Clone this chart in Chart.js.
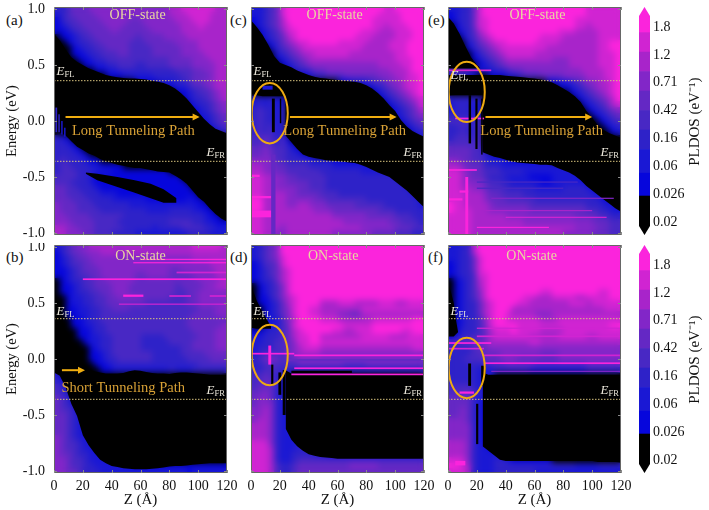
<!DOCTYPE html>
<html>
<head>
<meta charset="utf-8">
<title>PLDOS</title>
<script src="https://cdn.jsdelivr.net/npm/chart.js@4"></script>
<style>
html,body{margin:0;padding:0;background:#fff;width:709px;height:510px;overflow:hidden}
canvas{position:absolute}
.tag{position:absolute;font:15px "Liberation Serif",serif;color:#111}
</style>
</head>
<body>
<div class="tag" style="left:6px;top:12px">(a)</div>
<div class="tag" style="left:230px;top:12px">(c)</div>
<div class="tag" style="left:428px;top:12px">(e)</div>
<div class="tag" style="left:6px;top:249px">(b)</div>
<div class="tag" style="left:230px;top:249px">(d)</div>
<div class="tag" style="left:428px;top:249px">(f)</div>
<canvas id="pa"></canvas><canvas id="pc"></canvas><canvas id="pe"></canvas>
<canvas id="pb"></canvas><canvas id="pd"></canvas><canvas id="pf"></canvas>
<canvas id="cb1"></canvas><canvas id="cb2"></canvas>
<script>
// colour level 0..9 of the PLDOS map
const levelColors = ['#000000','#0606dc','#1a18d4','#2e22c8','#4828c4','#6428c4','#8226c8','#a824ca','#d024d2','#fb24dc'];
const energyTicks = [-1,-0.5,0,0.5,1];
const zTicks = [0,20,40,60,80,100,120];
const cbarLabels = ['0.02','0.026','0.06','0.16','0.42','0.71','1.2','1.8'];
const cbarEdges = [-0.47,0.93,1.75,2.6,3.3,4,4.7,5.4,6.1,6.8,7.72];
const fermiLeft = 0.36, fermiRight = -0.36;

// rows go from E=1.0 to E=-1.0 in 0.05 steps, columns are 4 A wide
const gridA = [
"334555666666666666667788888877","234555566666666666667778888777","134455556666655666666777888777",
"123445555666555566666677787777","112344555565555556666677777777","011234455555554555566667777777",
"001233445555544455555666677777","000123344555544445555566677777","000112334445544445555566667777",
"000011233444444444445555666777","000001122334443344445555666677","000000011223333333333444556677",
"000000000111222223333344555677","000000000000001111222334556677","000000000000000000011223445677",
"000000000000000000000112344567","000000000000000000000012334567","000000000000000000000001233456",
"000000000000000000000001123456","000000000000000000000000122345","000000000000000000000000012345",
"000000000000000000000000001234","000000000000000000000000000123","321000000000000000000000000000",
"332100000000000000000000000000","333210000000000000000000000000","333321000000000000000000000000",
"343332110000000000000000000000","344333221111000000000000000000","344433322211111111110000000000",
"444433211111111111111100000000","444333211111111111111110000000","554433321111111111111111000000",
"554443332221111111111111100000","555444333322222211111112110000","655544433333322222222222211000",
"655544443333333322223333221100","665555444444333333333333332110","666555544443333333334444332211",
"776655544444333332333344443322","776665544433332222222223333222"];
const gridB = [
"234566777777777777777777888887","134556667776777777777777777777","123455666666666666666666777777",
"123445566666666666666666666777","112345556666666666665566666677","112344556666665566665555666677",
"012334455666665555555555566667","011234455566655555555455556677","011233445566655555555445566666",
"001223344556666555554445566666","001223344555555544444445566666","001122334455544444444444455566",
"001122334444444444444444555566","000112334444444444444445555555","000112233444444444444445555556",
"000011233444444444444444555566","000011223344444333344444455566","000001223344444333334444555566",
"000000123344444333333344555566","000000112344444443333344445555","000000112334444443333334444555",
"000000011233333333333333344444","100000001122222222223222333333","31","321","432","432","5431","54321",
"544310","5543210","5543210","55432110","554322110","6543221100","65443221100","654432211110",
"6554332211111","66544322221111111","665443322222211111111111111111","665543332222222222222221222222"];
const gridC = [
"223458999999999999999998899999","223458999999999999999988889999","123457999999999999999888889999",
"123457899999999999999887888999","012346889999999999988877788899","012345789999999999888777788899",
"001235678899999888887777888999","000134567888888888877777888999","000023456778888887777777788999",
"000012345677777777777777788899","000001234566666666666677778899","000000123345566666666666777899",
"000000001123344455555566677889","000000000000000112223445667889","000000000000000000011234567889",
"000000000000000000000123456789","232322000000000000000012345678","232322000000000000000001234568",
"343323000000000000000000123457","343323000000000000000000123456","343323000000000000000000012345",
"343423000000000000000000001234","343423000000000000000000000123","445434100000000000000000000012",
"445434210000000000000000000000","556544321000000000000000000000","556544332110000000000000000000",
"666644333322221111111000000000","776655444433332222222211100000","776655444444333333322222211000",
"887766554444433333333333322100","887766555544433333333333332110","887766665544433333333333333211",
"887777665555444333333333333321","997777666665544444443333333332","997777667766655555444443333332",
"997777777776665555555544433333","887777777777776666665555544433","887777777777777766666666554443",
"887776777777777777766666655544","887766777777776666666555544433"];
const gridD = [
"234569999999999999999999999999","234569999999999999999999999999","234568999999999999999999999999",
"124458999999999999999999999999","123457899999999999999999999999","123457899999999999999999999999",
"123357899999999999999999999999","012346899999999999999999999999","012346899999999999999999999999",
"011346789999999999999999999999","011235789999777888777788877888","001235689988777777788888888888",
"001235689988777665577777777777","001224679999888777777888888899","001224589999999988888999999999",
"112334578999998877888999998899","223334578899777777788888777888","223344568899888888888888888888",
"233344567888777777777777777788","234444567777666666666666666666","345654556666666666666666666666",
"334444445555555544445555555555","334443333333333333333333333333","445433200","445532210","455532210",
"556532210","566532210","566632210","667632211","667632211","677632211","777632221","777632221100",
"777632222110","888632223211","888732223322110","888732233332211111111111111111",
"888732234444444444444444444444","888743345555555556666655555555","888743345555555555555555555555"];
const gridE = [
"223358999999999999999999888888","123358999999999999999999888888","123358899999999999999988888888",
"013358899999999999999988788888","012347899999999999988877778888","001346789999999988887777778888",
"000235678899999888877777778899","000134567888888887777777778899","000013456788888777777777778889",
"000012345677777777666777778889","000001234566666666666777778889","445432223345566666666667777889",
"232210011122344455556666777889","000000000000000001122345667789","000000000000000000011234567789",
"000000000000000000000123456789","333333000000000000000012345679","233322000000000000000001234578",
"233322000000000000000000123456","333323000000000000000000012345","444434000000000000000000001234",
"334334000000000000000000000123","334334000000000000000000000012","344434000000000000000000000000",
"444444000000000000000000000000","555544100000000000000000000000","555544321100000000000000000000",
"665544322211111111000000000000","776555333222222222222111000000","887655444333322222222211100000",
"887655433322221111222221110000","887666544332222211222222111000","887766544433333222223333211100",
"888777655444433333333333322110","888777655544444333333333332111","988777765555554444444444333221",
"988877766666665555555555443322","888877777766666666666655554433","888877777777766666666666655544",
"888877777777777777777766665544","888877777777777777776666655544"];
const gridF = [
"223379999999999999999999999999","223379999999999999999999999999","223358999999999999999999999999",
"123358999999999999999999999999","123358999999999999999999999999","123348899999999999999999999999",
"012347899999999999999999999999","012347899999999999999999999999","012346899999999988999999998899",
"012346899999988777888877888899","012335789999887777777888788888","012335789997777777777777777888",
"012335789987777666777777777777","012334689988888877788888888888","012334689999888888888888888899",
"013334578889888877778888888888","123344578888887777788888778888","445555677777778877777777777777",
"333345566666666666666666666666","333344555666666655566666666666","333444555666555555566666666666",
"333333344455555444444444555555","333332223333332222222222333333","33333222","33333222","444432210",
"444543210","555532210","555532110","556532110","556532110","666532110","666632110","666632110",
"666632110","777632110","777632211","777632222110","888632223321111111",
"998732223333333333333322223333","888732223333333222222222222222"];

// black gap edges in eV
const zEven = [0,4,8,12,16,20,24,28,32,36,40,44,48,52,56,60,64,68,72,76,80,84,88,92,96,100,104,108,112,116,120];
const gapTopA = [.78,.72,.64,.57,.53,.5,.47,.45,.43,.41,.4,.39,.385,.38,.38,.375,.37,.36,.35,.34,.32,.29,.25,.2,.14,.08,.02,-.03,-.07,-.09,-.11];
const gapBotA = [-.08,-.1,-.13,-.18,-.23,-.26,-.29,-.31,-.34,-.36,-.375,-.39,-.4,-.41,-.42,-.42,-.43,-.44,-.45,-.455,-.46,-.49,-.52,-.56,-.62,-.68,-.72,-.78,-.83,-.87,-.9];
const gapTopB = [.56,.38,.26,.14,.05,-.04,-.09,-.11,-.12,-.13,-.13,-.13,-.125,-.11,-.1,-.105,-.115,-.125,-.13,-.13,-.135,-.125,-.12,-.12,-.125,-.13,-.135,-.14,-.14,-.14,-.14];
const gapBotB = [-.12,-.15,-.25,-.4,-.51,-.68,-.77,-.84,-.9,-.93,-.955,-.965,-.975,-.98,-.985,-.985,-.985,-.98,-.975,-.97,-.96,-.955,-.955,-.95,-.945,-.94,-.935,-.93,-.93,-.93,-.93];
const zStepped = [0,4,8,12,16,20,24,24.01,28,32,36,40,44,48,52,56,60,64,68,72,76,80,84,88,92,96,100,104,108,112,116,120];
const gapTopC = [.9,.84,.77,.68,.58,.52,.5,.5,.48,.45,.43,.41,.395,.385,.38,.37,.367,.36,.355,.35,.34,.32,.29,.25,.2,.14,.09,.01,-.05,-.09,-.115,-.14];
const gapBotC = [.24,.23,.22,.22,.22,.22,.22,-.13,-.19,-.25,-.3,-.32,-.33,-.34,-.35,-.355,-.36,-.365,-.37,-.375,-.39,-.41,-.435,-.46,-.48,-.5,-.54,-.58,-.62,-.67,-.72,-.77];
const gapTopE = [.41,.41,.41,.41,.41,.41,.41,.41,.41,.41,.41,.405,.4,.395,.39,.385,.38,.37,.36,.345,.32,.29,.26,.22,.17,.09,.03,-.04,-.08,-.11,-.13,-.15];
const gapBotE = [.23,.23,.23,.23,.23,.23,.23,-.28,-.3,-.32,-.33,-.345,-.36,-.37,-.375,-.38,-.385,-.39,-.39,-.395,-.42,-.44,-.46,-.49,-.53,-.58,-.62,-.66,-.7,-.74,-.78,-.81];
const zRight = [24,28,32,36,40,44,48,52,56,60,64,68,72,76,80,84,88,92,96,100,104,108,112,116,120];
const gapTopD = [-.1,-.13,-.13,-.13,-.13,-.13,-.13,-.13,-.13,-.13,-.13,-.13,-.13,-.13,-.13,-.13,-.13,-.13,-.13,-.13,-.13,-.13,-.13,-.13,-.13];
const gapBotD = [-.62,-.72,-.78,-.82,-.85,-.865,-.875,-.88,-.885,-.89,-.89,-.89,-.89,-.89,-.89,-.89,-.89,-.89,-.89,-.89,-.89,-.89,-.89,-.89,-.89];
const gapTopF = [-.12,-.14,-.14,-.14,-.14,-.14,-.14,-.14,-.14,-.14,-.14,-.14,-.14,-.14,-.14,-.14,-.14,-.14,-.14,-.14,-.14,-.14,-.14,-.14,-.14];
const gapBotF = [-.78,-.82,-.86,-.9,-.91,-.91,-.91,-.91,-.91,-.91,-.91,-.91,-.91,-.91,-.91,-.91,-.91,-.91,-.91,-.91,-.92,-.92,-.92,-.92,-.92];

// the second black patch of a panel
const islandZA = [22,30,44,56,67,76,85];
const islandTopA = [-.46,-.47,-.5,-.53,-.56,-.61,-.69];
const islandBotA = [-.47,-.53,-.59,-.64,-.69,-.73,-.73];
const wedgeZD = [0,4,8,12,14];
const wedgeTopD = [.66,.52,.42,.33,.29];
const wedgeBotD = [.28,.27,.27,.27,.27];
const wedgeZE = [0,4,8,12,16,20,22];
const wedgeTopE = [.93,.87,.78,.67,.57,.5,.48];
const wedgeBotE = [.47,.47,.47,.47,.47,.47,.47];
const wedgeZF = [0,2,4,5.5,7];
const wedgeTopF = [.68,.6,.5,.35,.24];
const wedgeBotF = [.2,.2,.2,.22,.24];

// thin streaks and slits: z from, z to, E low, E high, level
const detailA = [[1,2.2,-.1,.12,3],[3,4,-.1,.06,3],[5,6,-.12,0,2],[7,8,-.14,-.06,2]];
const detailB = [[60,120,.885,.895,9],[55,120,.855,.865,9],[85,120,.765,.78,8],[20,120,.705,.72,9],[48,62,.555,.575,9],[80,95,.555,.57,8],[108,120,.555,.57,8],[45,120,.485,.495,8]];
const detailC = [[14.5,16.5,-.1,.2,0],[20,21,-.02,.2,0],[8,15,.28,.315,2],[0,6,-.5,-.48,9],[0,14,-.69,-.67,9],[0,14,-.86,-.8,9],[14,17,-1.02,-.3,5]];
const detailD = [[0,30,.04,.055,9],[12,14,-.05,.12,9],[25,120,-.02,0,5],[30,120,.025,.04,9],[30,120,-.09,-.075,9],[28,120,-.145,-.13,9],[28,70,-.125,-.105,0],[19,21,-.32,-.12,0],[14,15.5,-.24,-.05,0],[22,24,-.5,-.1,0]];
const detailE = [[0,30,.445,.46,8],[5,25,.015,.03,9],[14.3,16,-.2,.23,0],[19,20.5,-.25,.2,0],[23,24,-.3,.2,0],[0,20,-.445,-.43,9],[8,14,-.64,-.62,9],[0,10,-.71,-.69,9],[12,14,-1.02,-.5,9],[30,115,-.695,-.685,6],[25,100,-.805,-.795,7],[40,110,-.865,-.855,8],[20,70,-.955,-.945,9],[20,90,-.55,-.54,4],[20,80,-.605,-.595,4]];
const detailF = [[0,30,.135,.15,9],[0,25,.085,.1,8],[8,18,-.31,-.29,9],[25,120,.025,.04,8],[25,120,-.045,-.03,9],[30,120,-.115,-.105,6],[20,120,.195,.21,8],[20,120,.27,.28,8],[14,16,-.24,-.04,0],[19.5,21,-.76,-.4,0],[23,26,-.24,-.06,0],[5,12,-.95,-.91,9]];

function cellsOf(rows){
  var cells = [];
  rows.forEach((row,r) => {
    row = row.padEnd(30,'0');
    for(var c=0;c<30;c++){
      cells.push({x:c*4+2, y:1-r*0.05, v:+row[c]});
    }
  });
  return cells;
}
function edge(z,e){ return z.map((v,i) => ({x:v,y:e[i]})); }

// paints the map, soft edged like the original image
const heatPlugin = {
  id:'heat',
  beforeDatasetsDraw(chart){
    var xs = chart.scales.x, ys = chart.scales.y, a = chart.chartArea;
    var off = document.createElement('canvas');
    off.width = chart.width; off.height = chart.height;
    var o = off.getContext('2d');
    chart.data.datasets[0].data.forEach(p => {
      var x0 = Math.round(xs.getPixelForValue(p.x-2)), x1 = Math.round(xs.getPixelForValue(p.x+2));
      var y0 = Math.round(ys.getPixelForValue(p.y+0.025)), y1 = Math.round(ys.getPixelForValue(p.y-0.025));
      o.fillStyle = levelColors[p.v];
      o.fillRect(x0,y0,x1-x0,y1-y0);
    });
    var ctx = chart.ctx;
    ctx.save();
    ctx.beginPath(); ctx.rect(a.left,a.top,a.right-a.left,a.bottom-a.top); ctx.clip();
    ctx.drawImage(off,0,0);
    ctx.filter = 'blur(3px)';
    ctx.drawImage(off,0,0);
    ctx.restore();
  }
};

function fermiLabel(ctx,xs,ys,name,z,e){
  var x = xs.getPixelForValue(z), y = ys.getPixelForValue(e);
  ctx.fillStyle = '#ece8dc';
  ctx.textAlign = 'left'; ctx.textBaseline = 'middle';
  ctx.font = 'italic 13px "Liberation Serif"';
  ctx.fillText('E',x-9,y);
  ctx.font = '8.5px "Liberation Serif"';
  ctx.fillText(name,x-1,y+3);
}

const overlayPlugin = {
  id:'overlay',
  afterDatasetsDraw(chart,args,opts){
    var xs = chart.scales.x, ys = chart.scales.y, a = chart.chartArea, ctx = chart.ctx;
    ctx.save();
    ctx.beginPath(); ctx.rect(a.left,a.top,a.right-a.left,a.bottom-a.top); ctx.clip();
    opts.detail.forEach(d => {
      var x0 = xs.getPixelForValue(d[0]), x1 = xs.getPixelForValue(d[1]);
      var y0 = ys.getPixelForValue(d[3]), y1 = ys.getPixelForValue(d[2]);
      ctx.fillStyle = levelColors[d[4]];
      ctx.fillRect(x0,y0,x1-x0,Math.max(y1-y0,1.2));
    });
    if(opts.ellipse){
      ctx.strokeStyle = '#eeaa12'; ctx.lineWidth = 2;
      ctx.beginPath();
      ctx.ellipse(xs.getPixelForValue(opts.ellipse[0]),ys.getPixelForValue(opts.ellipse[1]),
        xs.getPixelForValue(opts.ellipse[2])-xs.getPixelForValue(0),
        ys.getPixelForValue(0)-ys.getPixelForValue(opts.ellipse[3]),0,0,Math.PI*2);
      ctx.stroke();
    }
    if(opts.arrow){
      var ax0 = xs.getPixelForValue(opts.arrow[0]), ax1 = xs.getPixelForValue(opts.arrow[1]), ay = ys.getPixelForValue(opts.arrow[2]);
      ctx.strokeStyle = ctx.fillStyle = '#f0ae10'; ctx.lineWidth = 2;
      ctx.beginPath(); ctx.moveTo(ax0,ay); ctx.lineTo(ax1-5,ay); ctx.stroke();
      ctx.beginPath(); ctx.moveTo(ax1,ay); ctx.lineTo(ax1-7,ay-3.5); ctx.lineTo(ax1-7,ay+3.5); ctx.fill();
    }
    ctx.textAlign = 'center'; ctx.textBaseline = 'middle';
    ctx.font = '14px "Liberation Serif"';
    ctx.fillStyle = '#e8d8a0';
    ctx.fillText(opts.state[0],xs.getPixelForValue(opts.state[1]),ys.getPixelForValue(opts.state[2]));
    if(opts.path){
      ctx.font = '14.5px "Liberation Serif"';
      ctx.fillStyle = '#d9a236';
      ctx.fillText(opts.path[0],xs.getPixelForValue(opts.path[1]),ys.getPixelForValue(opts.path[2]));
    }
    fermiLabel(ctx,xs,ys,'FL',opts.fl[0],opts.fl[1]);
    fermiLabel(ctx,xs,ys,'FR',opts.fr[0],opts.fr[1]);
    ctx.restore();

    // frame and inward ticks on all four sides
    ctx.save();
    ctx.strokeStyle = '#666'; ctx.lineWidth = 1;
    ctx.strokeRect(a.left+.5,a.top+.5,a.right-a.left-1,a.bottom-a.top-1);
    ctx.strokeStyle = '#8a8a8a';
    ctx.beginPath();
    zTicks.forEach(v => {
      var x = Math.round(xs.getPixelForValue(v))+.5;
      ctx.moveTo(x,a.top); ctx.lineTo(x,a.top+3);
      ctx.moveTo(x,a.bottom); ctx.lineTo(x,a.bottom-3);
    });
    energyTicks.forEach(v => {
      var y = Math.round(ys.getPixelForValue(v))+.5;
      ctx.moveTo(a.left,y); ctx.lineTo(a.left+3,y);
      ctx.moveTo(a.right,y); ctx.lineTo(a.right-3,y);
    });
    ctx.stroke();
    ctx.restore();
  }
};

// chart.js reserves room for the end labels, the panels must keep their exact box
function noEndPadding(s){ s.paddingLeft = s.paddingRight = s.paddingTop = s.paddingBottom = 0; }

function makePanel(id,p){
  var el = document.getElementById(id);
  el.style.left = p.left+'px'; el.style.top = p.top+'px';
  el.width = p.width; el.height = p.height;
  var fermi = v => ({type:'scatter',showLine:true,order:-1,data:[{x:0,y:v},{x:120,y:v}],borderColor:'#d6c27e',borderWidth:1,borderDash:[1.5,1.5],pointRadius:0});
  var black = (z,e,fill) => ({type:'scatter',showLine:true,data:edge(z,e),borderWidth:0,pointRadius:0,backgroundColor:'#000',fill:fill});
  var sets = [{type:'scatter',label:'PLDOS',data:cellsOf(p.grid),pointRadius:0,showLine:false}];
  sets.push(black(p.gap[0],p.gap[1],'+1'),black(p.gap[0],p.gap[2],false));
  if(p.patch) sets.push(black(p.patch[0],p.patch[1],'+1'),black(p.patch[0],p.patch[2],false));
  sets.push(fermi(fermiLeft),fermi(fermiRight));
  new Chart(el,{
    type:'scatter',
    data:{datasets:sets},
    plugins:[heatPlugin,overlayPlugin],
    options:{
      responsive:false,animation:false,
      events:[],
      layout:{padding:p.padding},
      plugins:{legend:{display:false},tooltip:{enabled:false},overlay:p.overlay},
      scales:{
        x:{type:'linear',min:0,max:120,
          grid:{display:false,drawTicks:false},border:{display:false},
          afterBuildTicks:s => { s.ticks = zTicks.map(v => ({value:v})); },
          afterFit:s => { s.height = p.bottomAxis; noEndPadding(s); },
          ticks:{display:p.bottomAxis>0,padding:5,maxRotation:0,autoSkip:false,color:'#111',font:{family:'Liberation Serif',size:14}},
          title:{display:p.bottomAxis>0,text:'Z (Å)',color:'#111',padding:{top:0,bottom:1},font:{family:'Liberation Serif',size:15}}},
        y:{type:'linear',min:-1.018,max:1.018,
          grid:{display:false,drawTicks:false},border:{display:false},
          afterBuildTicks:s => { s.ticks = energyTicks.map(v => ({value:v})); },
          afterFit:s => { s.width = p.leftAxis; noEndPadding(s); },
          ticks:{display:p.leftAxis>0,padding:9,autoSkip:false,color:'#111',font:{family:'Liberation Serif',size:14},callback:v => v.toFixed(1)},
          title:{display:p.leftAxis>0,text:'Energy (eV)',color:'#111',padding:{top:3,bottom:0},font:{family:'Liberation Serif',size:14.5}}}
      }
    }
  });
}

// labels and marks are given in axis units
makePanel('pa',{left:0,top:0,width:238,height:243,leftAxis:54,bottomAxis:0,padding:{top:7,bottom:8,left:0,right:11},
  grid:gridA,gap:[zEven,gapTopA,gapBotA],patch:[islandZA,islandTopA,islandBotA],
  overlay:{detail:detailA,arrow:[8,101,.036],state:['OFF-state',58,.94],path:['Long Tunneling Path',55,-.09],fl:[8,.44],fr:[112,-.28]}});
makePanel('pc',{left:235,top:0,width:200,height:243,leftAxis:0,bottomAxis:0,padding:{top:7,bottom:8,left:16,right:11},
  grid:gridC,gap:[zStepped,gapTopC,gapBotC],
  overlay:{detail:detailC,ellipse:[13,.07,12.5,.27],arrow:[27,101,.036],state:['OFF-state',58,.94],path:['Long Tunneling Path',65,-.09],fl:[8,.44],fr:[112,-.28]}});
makePanel('pe',{left:432,top:0,width:200,height:243,leftAxis:0,bottomAxis:0,padding:{top:7,bottom:8,left:16,right:11},
  grid:gridE,gap:[zStepped,gapTopE,gapBotE],patch:[wedgeZE,wedgeTopE,wedgeBotE],
  overlay:{detail:detailE,ellipse:[13,.26,12.5,.27],arrow:[26,100,.036],state:['OFF-state',62,.94],path:['Long Tunneling Path',65,-.09],fl:[8,.41],fr:[112,-.28]}});
makePanel('pb',{left:0,top:243,width:238,height:267,leftAxis:54,bottomAxis:37,padding:{top:2,bottom:0,left:0,right:11},
  grid:gridB,gap:[zEven,gapTopB,gapBotB],
  overlay:{detail:detailB,arrow:[5.5,21.5,-.1],state:['ON-state',60,.92],path:['Short Tunneling Path',48,-.26],fl:[8,.42],fr:[112,-.28]}});
makePanel('pd',{left:235,top:243,width:200,height:267,leftAxis:0,bottomAxis:37,padding:{top:2,bottom:0,left:16,right:11},
  grid:gridD,gap:[zRight,gapTopD,gapBotD],patch:[wedgeZD,wedgeTopD,wedgeBotD],
  overlay:{detail:detailD,ellipse:[13,.035,12.5,.27],state:['ON-state',57,.92],fl:[8,.42],fr:[112,-.28]}});
makePanel('pf',{left:432,top:243,width:200,height:267,leftAxis:0,bottomAxis:37,padding:{top:2,bottom:0,left:16,right:11},
  grid:gridF,gap:[zRight,gapTopF,gapBotF],patch:[wedgeZF,wedgeTopF,wedgeBotF],
  overlay:{detail:detailF,ellipse:[13,-.08,12.5,.27],state:['ON-state',58,.92],fl:[8,.42],fr:[112,-.28]}});

// pointed ends and rotated title of the colour bar
const cbarPlugin = {
  id:'cbarEnds',
  afterDatasetsDraw(chart){
    var ctx = chart.ctx, a = chart.chartArea, ys = chart.scales.y;
    var mid = (a.left+a.right)/2;
    ctx.save();
    ctx.fillStyle = '#fff';
    ctx.beginPath(); ctx.moveTo(a.left,a.top+9); ctx.lineTo(mid,a.top); ctx.lineTo(a.left,a.top); ctx.fill();
    ctx.beginPath(); ctx.moveTo(a.right,a.top+9); ctx.lineTo(mid,a.top); ctx.lineTo(a.right,a.top); ctx.fill();
    ctx.beginPath(); ctx.moveTo(a.left,a.bottom-9); ctx.lineTo(mid,a.bottom); ctx.lineTo(a.left,a.bottom); ctx.fill();
    ctx.beginPath(); ctx.moveTo(a.right,a.bottom-9); ctx.lineTo(mid,a.bottom); ctx.lineTo(a.right,a.bottom); ctx.fill();
    ctx.translate(695,ys.getPixelForValue(3.6));
    ctx.rotate(-Math.PI/2);
    ctx.fillStyle = '#111'; ctx.font = '15px "Liberation Serif"';
    ctx.textAlign = 'center'; ctx.textBaseline = 'middle';
    ctx.fillText('PLDOS (eV⁻¹)',0,0);
    ctx.restore();
  }
};

function makeBar(id,top,height,padTop,padBottom){
  var el = document.getElementById(id);
  el.style.left = '0px'; el.style.top = top+'px';
  el.width = 709; el.height = height;
  new Chart(el,{
    type:'bar',
    data:{labels:['PLDOS'],datasets:levelColors.map((c,i) => ({data:[[cbarEdges[i],cbarEdges[i+1]]],backgroundColor:c,borderWidth:0,grouped:false,barPercentage:1,categoryPercentage:1}))},
    plugins:[cbarPlugin],
    options:{
      responsive:false,animation:false,events:[],
      layout:{padding:{top:padTop,bottom:padBottom,left:639,right:0}},
      plugins:{legend:{display:false},tooltip:{enabled:false}},
      scales:{
        x:{display:false,grid:{display:false}},
        y:{position:'right',min:-0.47,max:7.72,
          grid:{display:false,drawTicks:false},border:{display:false},
          afterBuildTicks:s => { s.ticks = cbarLabels.map((v,i) => ({value:i})); },
          afterFit:s => { s.width = 59; noEndPadding(s); },
          ticks:{padding:3,autoSkip:false,color:'#111',font:{family:'Liberation Serif',size:14},callback:v => cbarLabels[v]}}
      }
    }
  });
}
makeBar('cb1',0,243,7,8);
makeBar('cb2',243,267,2,37);
</script>
</body>
</html>
